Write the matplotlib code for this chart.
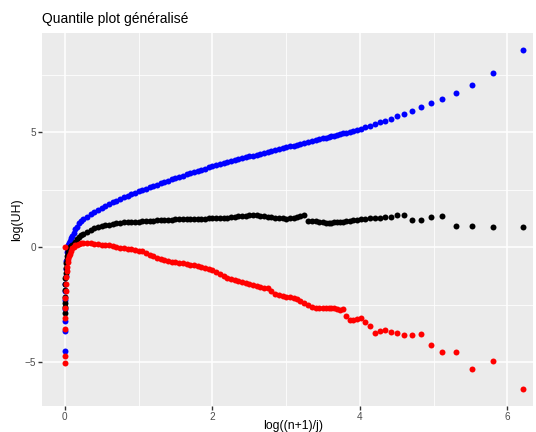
import numpy as np
import matplotlib.pyplot as plt

plt.rcParams['font.family'] = ['Liberation Sans', 'DejaVu Sans']

n = 999

# ranks j, from the smallest values (x near 0) up to the largest
ranks = [998, 997, 996, 995, 994, 992, 990, 987, 984, 980, 975, 970, 962, 955,
         945, 935, 920, 905, 885, 865, 845, 820, 800,
         778, 740, 704, 669, 637, 606, 576, 548, 521, 496,
         471, 448, 426, 406, 386, 367, 349, 332, 316, 300,
         286, 272, 258, 246, 234, 222, 211, 201, 191, 182,
         173, 164, 156, 149, 141, 134, 128, 121, 115, 110,
         104, 99, 94, 90, 85, 81, 77, 73, 70, 66,
         63, 60, 57, 54, 51, 49, 46, 44, 42, 40,
         38, 36, 34, 32, 31, 29,
         28, 27, 26, 25, 24, 23, 22, 21, 20, 19, 18, 17, 16, 15,
         14, 13, 12, 11, 10, 9, 8, 7, 6, 5, 4, 3, 2, 1]

log_uh_blue = [-4.51, -3.62, -3.2, -2.7, -2.3, -1.9, -1.6, -1.25, -0.95, -0.6,
               -0.2, -0.05, 0.02, 0.08, 0.17, 0.26, 0.40, 0.50, 0.62, 0.78,
               0.90, 1.05, 1.16,
               1.22, 1.33, 1.43, 1.53, 1.62, 1.71, 1.80, 1.88, 1.96, 2.03,
               2.10, 2.17, 2.24, 2.30, 2.37, 2.43, 2.49, 2.55, 2.61, 2.67,
               2.73, 2.78, 2.84, 2.90, 2.95, 3.01, 3.06, 3.11, 3.17, 3.22,
               3.27, 3.32, 3.37, 3.42, 3.47, 3.52, 3.56, 3.61, 3.65, 3.70,
               3.74, 3.78, 3.83, 3.87, 3.91, 3.95, 3.99, 4.03, 4.07, 4.11,
               4.15, 4.19, 4.23, 4.27, 4.31, 4.35, 4.39, 4.42, 4.46, 4.50,
               4.54, 4.58, 4.62, 4.66, 4.70, 4.74,
               4.77, 4.80, 4.83, 4.86, 4.89, 4.92, 4.95, 4.98, 5.01, 5.05,
               5.09, 5.15, 5.21, 5.28, 5.34, 5.43, 5.51, 5.59, 5.69, 5.80,
               5.92, 6.08, 6.27, 6.46, 6.70, 7.06, 7.58, 8.57]

log_uh_black = [-2.84, -2.58, -2.44, -2.15, -1.86, -1.6, -1.35, -1.1, -0.9, -0.7,
                -0.5, -0.38, -0.25, -0.15, -0.07, 0.0, 0.05, 0.08, 0.14, 0.25,
                0.35, 0.45, 0.52,
                0.58, 0.68, 0.76, 0.82, 0.87, 0.91, 0.95, 0.98, 1.01, 1.04,
                1.06, 1.08, 1.09, 1.10, 1.11, 1.12, 1.13, 1.14, 1.15, 1.16,
                1.17, 1.18, 1.18, 1.19, 1.20, 1.21, 1.21, 1.22, 1.23, 1.23,
                1.24, 1.24, 1.25, 1.25, 1.26, 1.26, 1.27, 1.27, 1.28, 1.29,
                1.31, 1.33, 1.35, 1.37, 1.38, 1.39, 1.40, 1.39, 1.37, 1.35,
                1.32, 1.30, 1.28, 1.27, 1.26, 1.25, 1.27, 1.28, 1.30, 1.36,
                1.40, 1.16, 1.15, 1.13, 1.10, 1.08,
                1.05, 1.06, 1.07, 1.08, 1.09, 1.10, 1.12, 1.14, 1.16, 1.18,
                1.20, 1.23, 1.24, 1.27, 1.29, 1.26, 1.33, 1.33, 1.40, 1.42,
                1.17, 1.20, 1.30, 1.36, 0.93, 0.94, 0.88, 0.90]

log_uh_red = [-5.04, -4.73, -3.55, -3.09, -2.65, -2.22, 0.0, -1.9, -1.6, -1.3,
              -1.05, -0.85, -0.65, -0.5, -0.38, -0.27, -0.15, -0.05, 0.03, 0.08,
              0.12, 0.15, 0.17,
              0.18, 0.18, 0.17, 0.16, 0.14, 0.12, 0.10, 0.08, 0.05, 0.02,
              -0.01, -0.04, -0.06, -0.09, -0.11, -0.14, -0.18, -0.25, -0.32, -0.38,
              -0.45, -0.50, -0.54, -0.58, -0.62, -0.64, -0.67, -0.70, -0.73, -0.76,
              -0.79, -0.83, -0.87, -0.91, -0.95, -0.99, -1.08, -1.17, -1.26, -1.33,
              -1.40, -1.44, -1.48, -1.51, -1.55, -1.60, -1.65, -1.70, -1.74, -1.76,
              -1.78, -1.88, -2.02, -2.08, -2.12, -2.15, -2.18, -2.22, -2.25, -2.32,
              -2.42, -2.50, -2.58, -2.64, -2.66, -2.64,
              -2.65, -2.65, -2.63, -2.63, -2.67, -2.71, -2.67, -3.00, -3.16, -3.16,
              -3.13, -3.09, -3.23, -3.42, -3.74, -3.65, -3.60, -3.70, -3.73, -3.81,
              -3.80, -3.78, -4.25, -4.55, -4.57, -5.30, -4.93, -6.15]

x = np.log((n + 1) / (np.array(ranks) + 1))

fig = plt.figure(figsize=(5.36, 4.32), dpi=100)
ax = fig.add_axes([42 / 536, 26.3 / 432, 491 / 536, 372.4 / 432])
ax.set_facecolor('#EBEBEB')
for s in ax.spines.values():
    s.set_visible(False)

ax.set_xlim(-0.309, 6.348)
ax.set_ylim(-6.887, 9.304)
ax.set_xticks([0, 2, 4, 6])
ax.set_yticks([-5, 0, 5])
ax.set_xticks([1, 3, 5], minor=True)
ax.set_yticks([-2.5, 2.5, 7.5], minor=True)
ax.grid(which='major', color='white', linewidth=1.1)
ax.grid(which='minor', color='white', linewidth=0.55)
ax.set_axisbelow(True)
ax.tick_params(which='major', length=3.2, width=1.0, color='#333333',
               labelsize=7.2, labelcolor='#4D4D4D', pad=1.2)
ax.tick_params(which='minor', length=0)

# blue first, red drawn last on top
for yy, col in [(log_uh_blue, 'blue'), (log_uh_black, 'black'), (log_uh_red, 'red')]:
    ax.plot(x, yy, linestyle='none', marker='o', markersize=4.3,
            markeredgewidth=0, color=col, clip_on=False)

fig.text(42 / 536, 1 - 23.5 / 432, 'Quantile plot généralisé', fontsize=10,
         ha='left', va='baseline')
fig.text(293 / 536, 1 - 428.5 / 432, 'log((n+1)/j)', fontsize=8.8,
         ha='center', va='baseline')
fig.text(17.5 / 536, 1 - 220 / 432, 'log(UH)', fontsize=8.8, rotation=90,
         ha='center', va='center')

fig.savefig('out.png', dpi=100)
